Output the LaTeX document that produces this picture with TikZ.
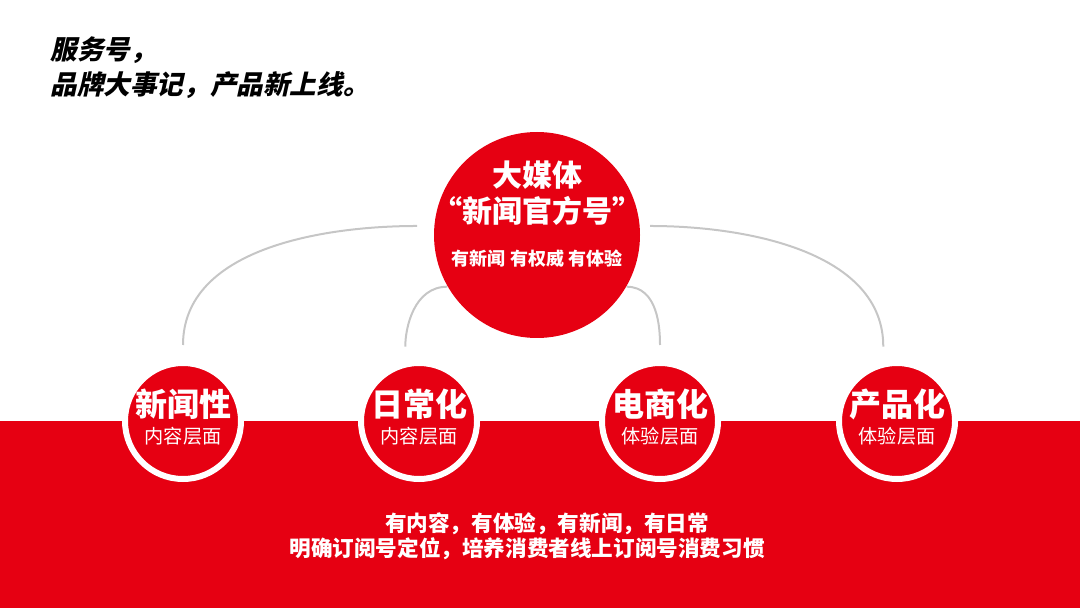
\documentclass[tikz,border=0pt]{standalone}
\usepackage{fontspec}
\setmainfont{Noto Sans CJK SC}
\newfontfamily\slantfont{Noto Sans CJK SC}[FakeSlant=0.22]
\usepackage{xcolor}
\usetikzlibrary{positioning,backgrounds}
\definecolor{brandred}{HTML}{E60012}
\definecolor{arcgray}{HTML}{C6C6C6}

\begin{document}
\begin{tikzpicture}[x=0.5pt, y=-0.5pt,
  hub/.style={circle, fill=brandred, minimum size=103pt, inner sep=0pt},
  spoke/.style={circle, fill=brandred, draw=white, line width=3pt,
    minimum size=58pt, inner sep=0pt},
  arc/.style={draw=arcgray, line width=1pt, shorten <=7.5pt},
  headline/.style={anchor=base west, inner sep=0pt,
    font=\slantfont\bfseries\fontsize{13.3}{15}\selectfont},
  bottomline/.style={text=white, inner sep=0pt,
    font=\bfseries\fontsize{10.8}{13}\selectfont},
]
% canvas and red band
\path[use as bounding box] (0,0) rectangle (1080,608);
\fill[brandred] (0,421) rectangle (1080,608);

\node[headline] (headA) at (50,60) {服务号，};
\node[headline] (headB) at (50,95) {品牌大事记，产品新上线。};

% circles
\node[hub] (media) at (537,235) {};
\node[spoke] (news) at (183,421) {};
\node[spoke] (daily) at (419,421) {};
\node[spoke] (shop) at (660,421) {};
\node[spoke] (product) at (897,421) {};

% grey arcs behind the hub
\begin{scope}[on background layer]
\draw[arc, shorten >=8.5pt] (news.north) to[out=90, in=180] (media.175);
\draw[arc, shorten >=5pt] (product.103) to[out=90, in=0] (media.5);
\draw[arc] (daily.103) to[out=90, in=180] (media.210);
\draw[arc] (shop.north) to[out=90, in=0] (media.330);
\end{scope}

% hub texts
\node[text=white, align=center, inner sep=0pt,
  font=\bfseries\fontsize{15}{18}\selectfont] (mediaT) at (537,193)
  {大媒体\\“新闻官方号”};
\node[text=white, inner sep=0pt, font=\bfseries\fontsize{9}{11}\selectfont,
  below=12pt of mediaT] (mediaS) {有新闻 有权威 有体验};

% spoke texts
\foreach \nd/\ttl/\sub in {news/新闻性/内容层面, daily/日常化/内容层面,
    shop/电商化/体验层面, product/产品化/体验层面}{
  \node[text=white, inner sep=0pt, font=\bfseries\fontsize{16}{18}\selectfont]
    (\nd T) at ([yshift=8.5pt]\nd) {\ttl};
  \node[text=white, inner sep=0pt, font=\fontsize{9.6}{11}\selectfont]
    (\nd S) at ([yshift=-7.5pt]\nd) {\sub};
}

\node[bottomline] (slogan) at (547,524) {有内容，有体验，有新闻，有日常};
\node[bottomline] (goal) at (527,549) {明确订阅号定位，培养消费者线上订阅号消费习惯};
\end{tikzpicture}
\end{document}
